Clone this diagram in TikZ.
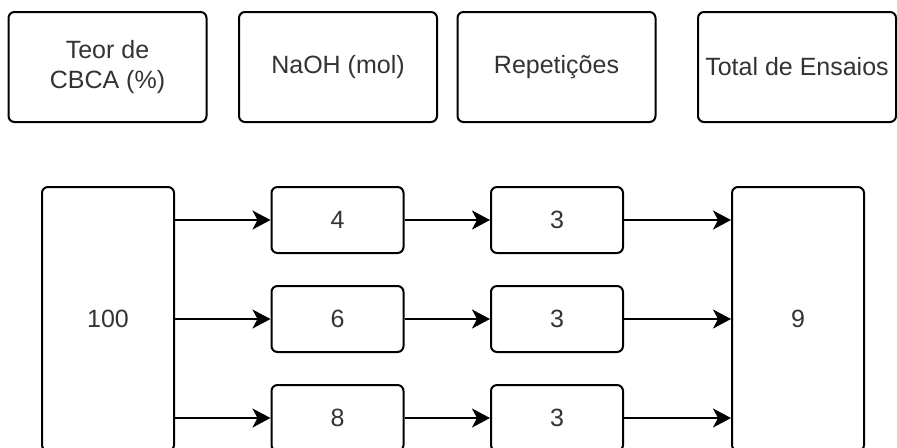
\documentclass[tikz,border=0pt]{standalone}
\usepackage{fontspec}
\setmainfont{Liberation Sans}
\usetikzlibrary{arrows.meta}
\newlength{\du}
\setlength{\du}{0.5pt}
\definecolor{dialinecolor}{rgb}{0.000000, 0.000000, 0.000000}
\definecolor{diatextcolor}{rgb}{0.200000, 0.200000, 0.200000}
\tikzset{
  headbox/.style={draw=dialinecolor, line width=2\du, rounded corners=6\du,
    minimum width=198\du, minimum height=110\du, inner sep=0pt,
    align=center, text=diatextcolor, font=\fontsize{12.5}{15}\selectfont},
  valbox/.style={headbox, minimum width=132\du, minimum height=66\du},
  bigbox/.style={headbox, minimum width=132\du, minimum height=264\du},
  flow/.style={draw=dialinecolor, line width=1pt,
    -{Stealth[length=9pt,width=9.5pt,inset=2.5pt]}}
}
\begin{document}
\begin{tikzpicture}
\pgftransformxscale{1.000000}
\pgftransformyscale{-1.000000}
\useasboundingbox (0\du,0\du) rectangle (897\du,447\du);
% header row
\node[headbox] (teor) at (107.500000\du,67.000000\du){Teor de\\CBCA (\%)};
\node[headbox] (naoh) at (338.000000\du,67.000000\du){NaOH (mol)};
\node[headbox] (repet) at (556.500000\du,67.000000\du){Repetições};
\node[headbox] (total) at (797.000000\du,67.000000\du){Total de Ensaios};
% left and right columns
\node[bigbox] (cbca) at (108.000000\du,319.000000\du){100};
\node[bigbox] (ensaios) at (798.000000\du,319.000000\du){9};
% NaOH values
\node[valbox] (mol4) at (337.500000\du,220.000000\du){4};
\node[valbox] (mol6) at (337.500000\du,319.000000\du){6};
\node[valbox] (mol8) at (337.500000\du,418.000000\du){8};
% repetitions
\node[valbox] (rep4) at (557.000000\du,220.000000\du){3};
\node[valbox] (rep6) at (557.000000\du,319.000000\du){3};
\node[valbox] (rep8) at (557.000000\du,418.000000\du){3};
% was here!!!
\draw[flow] (cbca.east |- mol4.west)--(mol4.west);
\draw[flow] (cbca.east |- mol6.west)--(mol6.west);
\draw[flow] (cbca.east |- mol8.west)--(mol8.west);
\draw[flow] (mol4.east)--(rep4.west);
\draw[flow] (mol6.east)--(rep6.west);
\draw[flow] (mol8.east)--(rep8.west);
\draw[flow] (rep4.east)--(ensaios.west |- rep4.east);
\draw[flow] (rep6.east)--(ensaios.west |- rep6.east);
\draw[flow] (rep8.east)--(ensaios.west |- rep8.east);
\end{tikzpicture}
\end{document}
